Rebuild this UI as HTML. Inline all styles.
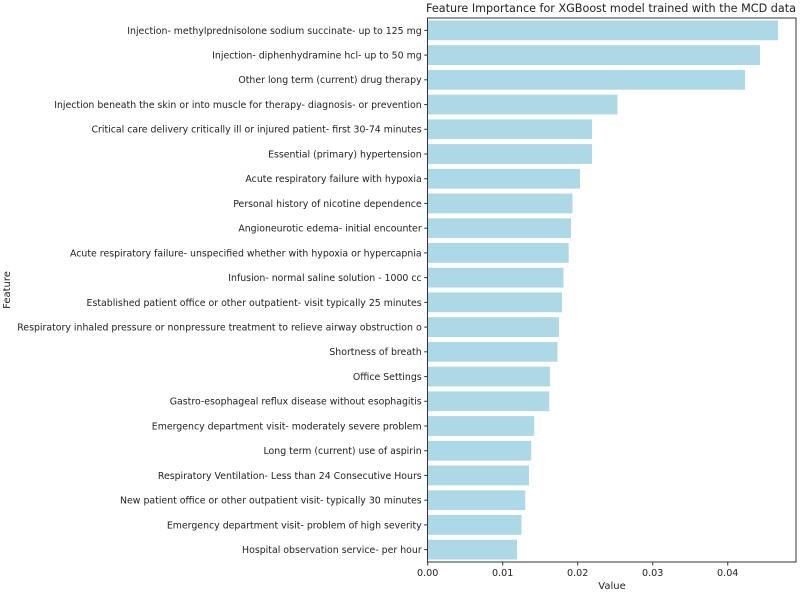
<!DOCTYPE html>
<html><head><meta charset="utf-8"><style>
html,body{margin:0;padding:0;background:#fff}
svg{display:block;font-family:"DejaVu Sans","Liberation Sans",sans-serif}
</style></head><body>
<svg id="chart" width="800" height="592">
<text x="611" y="12" text-anchor="middle" font-size="11.2" fill="#222">Feature Importance for XGBoost model trained with the MCD data</text>
<g id="bars"></g>
<g id="yaxis"></g>
<g id="xaxis"></g>
<rect x="427.5" y="18" width="368.5" height="544" fill="none" stroke="#333" stroke-width="1"/>
<text x="612" y="589" text-anchor="middle" font-size="10" fill="#222">Value</text>
<text transform="translate(10,290) rotate(-90)" text-anchor="middle" font-size="10" fill="#222">Feature</text>
</svg>
<script>
const features = ["Injection- methylprednisolone sodium succinate- up to 125 mg","Injection- diphenhydramine hcl- up to 50 mg","Other long term (current) drug therapy","Injection beneath the skin or into muscle for therapy- diagnosis- or prevention","Critical care delivery critically ill or injured patient- first 30-74 minutes","Essential (primary) hypertension","Acute respiratory failure with hypoxia","Personal history of nicotine dependence","Angioneurotic edema- initial encounter","Acute respiratory failure- unspecified whether with hypoxia or hypercapnia","Infusion- normal saline solution - 1000 cc","Established patient office or other outpatient- visit typically 25 minutes","Respiratory inhaled pressure or nonpressure treatment to relieve airway obstruction o","Shortness of breath","Office Settings","Gastro-esophageal reflux disease without esophagitis","Emergency department visit- moderately severe problem","Long term (current) use of aspirin","Respiratory Ventilation- Less than 24 Consecutive Hours","New patient office or other outpatient visit- typically 30 minutes","Emergency department visit- problem of high severity","Hospital observation service- per hour"];
const importance = [0.0467,0.0443,0.0423,0.0253,0.0219,0.0219,0.0203,0.0193,0.0191,0.0188,0.0181,0.0179,0.0175,0.0173,0.0163,0.0162,0.0142,0.0138,0.0135,0.0130,0.0125,0.0119];
const xTicks = [0,0.01,0.02,0.03,0.04];
const xTickLabels = ["0.00","0.01","0.02","0.03","0.04"];
const NS="http://www.w3.org/2000/svg";
const L=427.7,R=796,T=18,B=562,XMAX=0.0491;
const xs=v=>L+v/XMAX*(R-L);
const band=(B-T)/features.length;
const ys=i=>T+i*band;
const bars=document.getElementById('bars'),ya=document.getElementById('yaxis'),xa=document.getElementById('xaxis');
function mk(t,a){const e=document.createElementNS(NS,t);for(const k in a)e.setAttribute(k,a[k]);return e;}
features.forEach((f,i)=>{
  const r=mk('rect',{x:L,y:ys(i)+band*0.1,width:xs(importance[i])-L,height:band*0.8,fill:'#add8e6'});
  
  
  bars.appendChild(r);
  const cy=ys(i)+band/2;
  const tk=mk('line',{x1:L-3.5,x2:L,y1:cy,y2:cy,stroke:'#333'});
  
  
  ya.appendChild(tk);
  const tx=mk('text',{x:L-6,y:cy+3.4,'text-anchor':'end','font-size':'9.4',fill:'#222'});
  
  
  tx.textContent=f;ya.appendChild(tx);
});
xTicks.forEach((v,i)=>{
  const x=xs(v);
  const tk=mk('line',{x1:x,x2:x,y1:B,y2:B+3.5,stroke:'#333'});
  
  
  xa.appendChild(tk);
  const tx=mk('text',{x:x,y:B+14,'text-anchor':'middle','font-size':'9.6',fill:'#222'});
  
  
  tx.textContent=xTickLabels[i];xa.appendChild(tx);
});
</script>
</body></html>
